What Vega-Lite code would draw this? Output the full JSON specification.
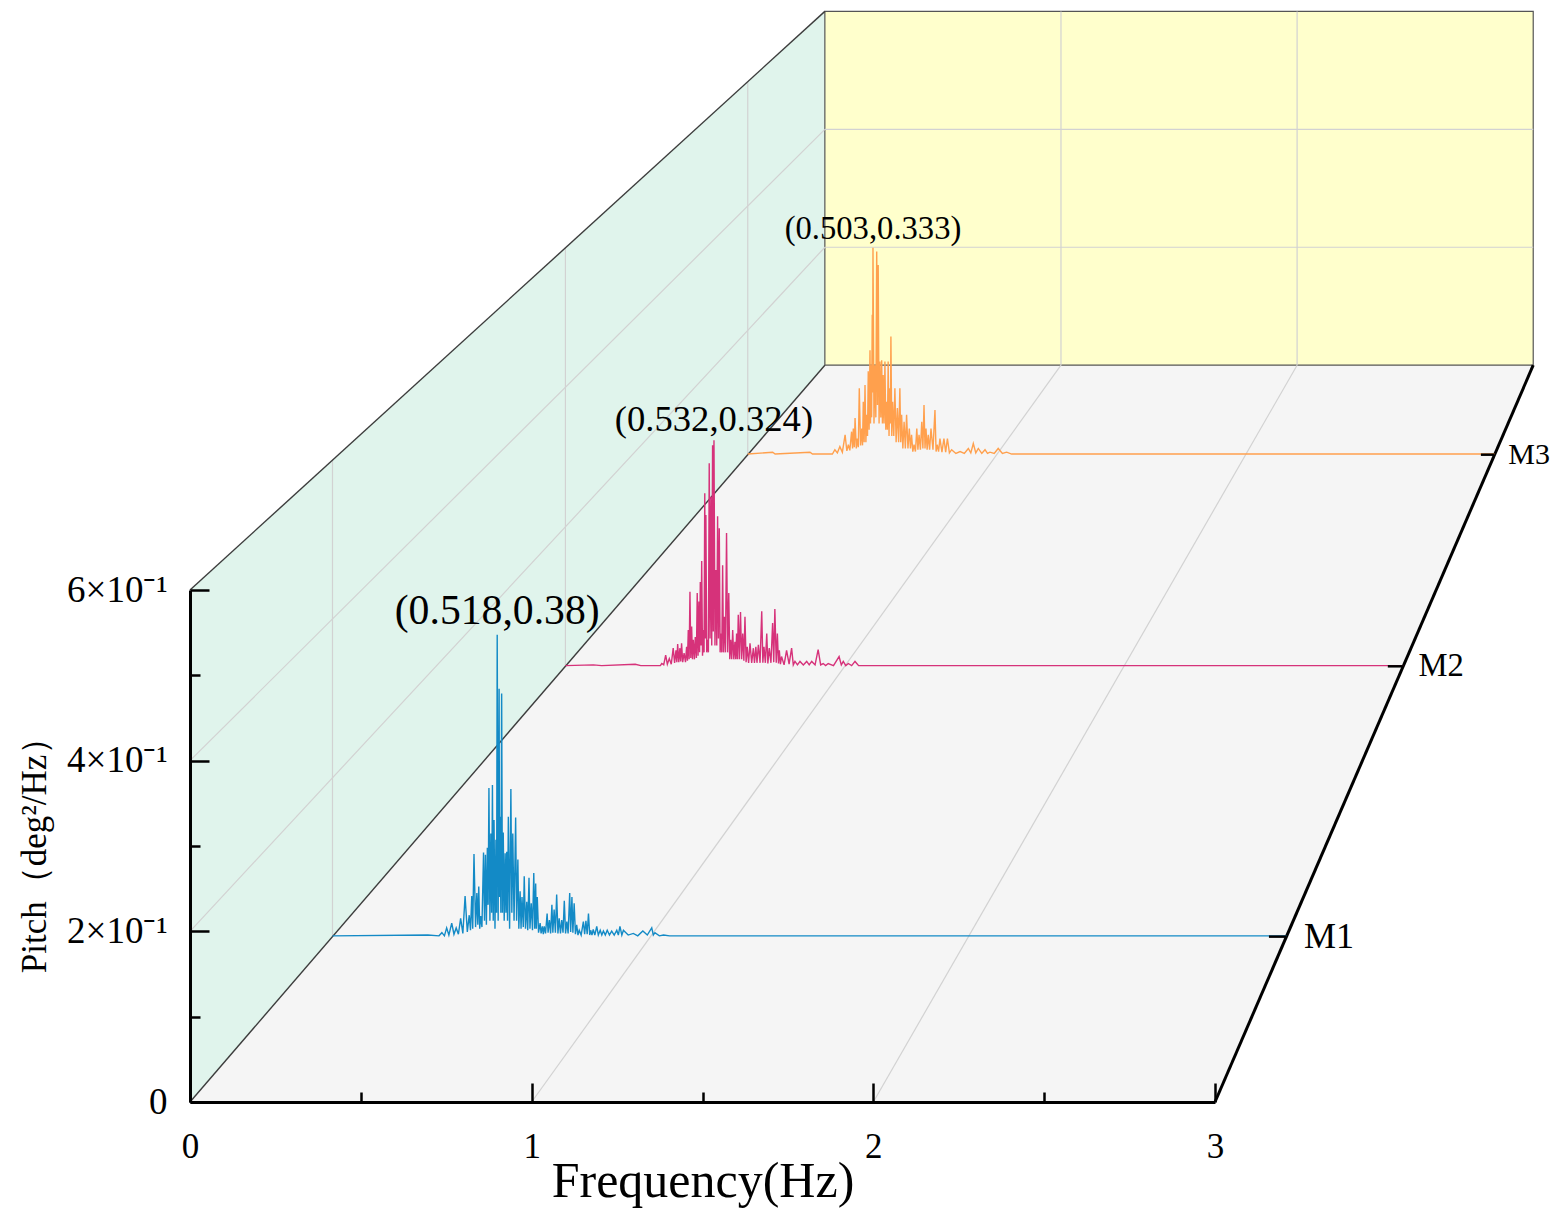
{
  "$schema": "https://vega.github.io/schema/vega-lite/v6.json",
  "width": 1025,
  "height": 512,
  "autosize": {"type": "none"},
  "padding": {"left": 190, "top": 590, "right": 342, "bottom": 114},
  "background": "white",
  "config": {"view": {"stroke": null}, "font": "Liberation Serif"},
  "datasets": {
    "box": [{"d": 0}, {"d": 3}],
    "frame": [
      {"k": "grid", "f1": 1, "p1": 0, "d1": 0, "f2": 1, "p2": 0, "d2": 3},
      {"k": "grid", "f1": 2, "p1": 0, "d1": 0, "f2": 2, "p2": 0, "d2": 3},
      {"k": "grid", "f1": 1, "p1": 0, "d1": 3, "f2": 1, "p2": 0.6, "d2": 3},
      {"k": "grid", "f1": 2, "p1": 0, "d1": 3, "f2": 2, "p2": 0.6, "d2": 3},
      {"k": "grid", "f1": 0, "p1": 0.2, "d1": 3, "f2": 3, "p2": 0.2, "d2": 3},
      {"k": "grid", "f1": 0, "p1": 0.4, "d1": 3, "f2": 3, "p2": 0.4, "d2": 3},
      {"k": "grid", "f1": 0, "p1": 0.2, "d1": 0, "f2": 0, "p2": 0.2, "d2": 3},
      {"k": "grid", "f1": 0, "p1": 0.4, "d1": 0, "f2": 0, "p2": 0.4, "d2": 3},
      {"k": "grid", "f1": 0, "p1": 0, "d1": 0.5, "f2": 0, "p2": 0.6, "d2": 0.5},
      {"k": "grid", "f1": 0, "p1": 0, "d1": 1.5, "f2": 0, "p2": 0.6, "d2": 1.5},
      {"k": "grid", "f1": 0, "p1": 0, "d1": 2.5, "f2": 0, "p2": 0.6, "d2": 2.5},
      {"k": "edge", "f1": 0, "p1": 0.6, "d1": 0, "f2": 0, "p2": 0.6, "d2": 3},
      {"k": "edge", "f1": 0, "p1": 0, "d1": 0, "f2": 0, "p2": 0, "d2": 3},
      {"k": "depth", "f1": 3, "p1": 0, "d1": 0, "f2": 3, "p2": 0, "d2": 3}
    ],
    "series": [{"m": "M1"}, {"m": "M2"}, {"m": "M3"}],
    "peaks": [
      {"m": "M1", "f": 0.518, "p": 0.38},
      {"m": "M2", "f": 0.532, "p": 0.324},
      {"m": "M3", "f": 0.503, "p": 0.333}
    ],
    "psd": [
      {"m":"M1","f":0,"p":0.001},{"m":"M1","f":0.3,"p":0.002},{"m":"M1","f":0.335,"p":0.001},{"m":"M1","f":0.344,"p":0.005},
      {"m":"M1","f":0.352,"p":0.001},{"m":"M1","f":0.359,"p":0.011},{"m":"M1","f":0.366,"p":0.002},{"m":"M1","f":0.375,"p":0.017},
      {"m":"M1","f":0.382,"p":0.003},{"m":"M1","f":0.389,"p":0.011},{"m":"M1","f":0.396,"p":0.003},{"m":"M1","f":0.403,"p":0.023},
      {"m":"M1","f":0.41,"p":0.004},{"m":"M1","f":0.417,"p":0.051},{"m":"M1","f":0.424,"p":0.006},{"m":"M1","f":0.43,"p":0.027},
      {"m":"M1","f":0.434,"p":0.008},{"m":"M1","f":0.438,"p":0.051},{"m":"M1","f":0.441,"p":0.01},{"m":"M1","f":0.445,"p":0.104},
      {"m":"M1","f":0.45,"p":0.012},{"m":"M1","f":0.454,"p":0.055},{"m":"M1","f":0.457,"p":0.015},{"m":"M1","f":0.46,"p":0.063},
      {"m":"M1","f":0.463,"p":0.01},{"m":"M1","f":0.466,"p":0.026},{"m":"M1","f":0.47,"p":0.012},{"m":"M1","f":0.475,"p":0.106},
      {"m":"M1","f":0.478,"p":0.02},{"m":"M1","f":0.481,"p":0.103},{"m":"M1","f":0.484,"p":0.015},{"m":"M1","f":0.487,"p":0.112},
      {"m":"M1","f":0.4895,"p":0.04},{"m":"M1","f":0.492,"p":0.187},{"m":"M1","f":0.495,"p":0.02},{"m":"M1","f":0.498,"p":0.13},
      {"m":"M1","f":0.5005,"p":0.03},{"m":"M1","f":0.503,"p":0.191},{"m":"M1","f":0.5055,"p":0.02},{"m":"M1","f":0.508,"p":0.147},
      {"m":"M1","f":0.511,"p":0.01},{"m":"M1","f":0.514,"p":0.122},{"m":"M1","f":0.516,"p":0.03},{"m":"M1","f":0.518,"p":0.38},
      {"m":"M1","f":0.521,"p":0.02},{"m":"M1","f":0.524,"p":0.312},{"m":"M1","f":0.5255,"p":0.05},{"m":"M1","f":0.527,"p":0.151},
      {"m":"M1","f":0.5295,"p":0.03},{"m":"M1","f":0.532,"p":0.306},{"m":"M1","f":0.5345,"p":0.03},{"m":"M1","f":0.537,"p":0.131},
      {"m":"M1","f":0.54,"p":0.02},{"m":"M1","f":0.543,"p":0.105},{"m":"M1","f":0.5455,"p":0.03},{"m":"M1","f":0.548,"p":0.107},
      {"m":"M1","f":0.5505,"p":0.02},{"m":"M1","f":0.553,"p":0.151},{"m":"M1","f":0.557,"p":0.01},{"m":"M1","f":0.561,"p":0.186},
      {"m":"M1","f":0.564,"p":0.03},{"m":"M1","f":0.567,"p":0.13},{"m":"M1","f":0.571,"p":0.02},{"m":"M1","f":0.576,"p":0.15},
      {"m":"M1","f":0.579,"p":0.02},{"m":"M1","f":0.583,"p":0.097},{"m":"M1","f":0.586,"p":0.01},{"m":"M1","f":0.59,"p":0.057},
      {"m":"M1","f":0.593,"p":0.01},{"m":"M1","f":0.596,"p":0.05},{"m":"M1","f":0.6,"p":0.012},{"m":"M1","f":0.603,"p":0.076},
      {"m":"M1","f":0.607,"p":0.01},{"m":"M1","f":0.611,"p":0.044},{"m":"M1","f":0.614,"p":0.008},{"m":"M1","f":0.618,"p":0.074},
      {"m":"M1","f":0.621,"p":0.01},{"m":"M1","f":0.625,"p":0.042},{"m":"M1","f":0.629,"p":0.008},{"m":"M1","f":0.633,"p":0.08},
      {"m":"M1","f":0.636,"p":0.01},{"m":"M1","f":0.639,"p":0.067},{"m":"M1","f":0.641,"p":0.01},{"m":"M1","f":0.644,"p":0.05},
      {"m":"M1","f":0.648,"p":0.005},{"m":"M1","f":0.653,"p":0.017},{"m":"M1","f":0.656,"p":0.004},{"m":"M1","f":0.66,"p":0.013},
      {"m":"M1","f":0.663,"p":0.003},{"m":"M1","f":0.666,"p":0.013},{"m":"M1","f":0.67,"p":0.004},{"m":"M1","f":0.675,"p":0.029},
      {"m":"M1","f":0.678,"p":0.005},{"m":"M1","f":0.682,"p":0.021},{"m":"M1","f":0.686,"p":0.004},{"m":"M1","f":0.69,"p":0.04},
      {"m":"M1","f":0.693,"p":0.005},{"m":"M1","f":0.697,"p":0.034},{"m":"M1","f":0.701,"p":0.005},{"m":"M1","f":0.705,"p":0.053},
      {"m":"M1","f":0.709,"p":0.004},{"m":"M1","f":0.713,"p":0.023},{"m":"M1","f":0.717,"p":0.004},{"m":"M1","f":0.721,"p":0.021},
      {"m":"M1","f":0.725,"p":0.005},{"m":"M1","f":0.729,"p":0.045},{"m":"M1","f":0.733,"p":0.004},{"m":"M1","f":0.737,"p":0.019},
      {"m":"M1","f":0.741,"p":0.004},{"m":"M1","f":0.746,"p":0.055},{"m":"M1","f":0.749,"p":0.006},{"m":"M1","f":0.753,"p":0.05},
      {"m":"M1","f":0.756,"p":0.005},{"m":"M1","f":0.76,"p":0.042},{"m":"M1","f":0.764,"p":0.003},{"m":"M1","f":0.768,"p":0.015},
      {"m":"M1","f":0.772,"p":0.002},{"m":"M1","f":0.776,"p":0.008},{"m":"M1","f":0.782,"p":0.002},{"m":"M1","f":0.789,"p":0.019},
      {"m":"M1","f":0.793,"p":0.003},{"m":"M1","f":0.797,"p":0.02},{"m":"M1","f":0.801,"p":0.003},{"m":"M1","f":0.805,"p":0.029},
      {"m":"M1","f":0.809,"p":0.002},{"m":"M1","f":0.812,"p":0.008},{"m":"M1","f":0.816,"p":0.002},{"m":"M1","f":0.82,"p":0.009},
      {"m":"M1","f":0.825,"p":0.002},{"m":"M1","f":0.831,"p":0.013},{"m":"M1","f":0.836,"p":0.002},{"m":"M1","f":0.842,"p":0.008},
      {"m":"M1","f":0.847,"p":0.002},{"m":"M1","f":0.852,"p":0.007},{"m":"M1","f":0.858,"p":0.002},{"m":"M1","f":0.864,"p":0.008},
      {"m":"M1","f":0.871,"p":0.002},{"m":"M1","f":0.878,"p":0.007},{"m":"M1","f":0.886,"p":0.002},{"m":"M1","f":0.894,"p":0.008},
      {"m":"M1","f":0.899,"p":0.002},{"m":"M1","f":0.904,"p":0.013},{"m":"M1","f":0.91,"p":0.002},{"m":"M1","f":0.915,"p":0.008},
      {"m":"M1","f":0.93,"p":0.002},{"m":"M1","f":0.946,"p":0.004},{"m":"M1","f":0.96,"p":0.001},{"m":"M1","f":0.976,"p":0.007},
      {"m":"M1","f":0.99,"p":0.002},{"m":"M1","f":1.004,"p":0.011},{"m":"M1","f":1.009,"p":0.002},{"m":"M1","f":1.014,"p":0.005},
      {"m":"M1","f":1.028,"p":0.001},{"m":"M1","f":1.041,"p":0.002},{"m":"M1","f":1.06,"p":0.001},{"m":"M1","f":3,"p":0.001},

      {"m":"M2","f":0,"p":0.001},{"m":"M2","f":0.1,"p":0.002},{"m":"M2","f":0.13,"p":0.001},{"m":"M2","f":0.25,"p":0.003},
      {"m":"M2","f":0.27,"p":0.001},{"m":"M2","f":0.34,"p":0.001},{"m":"M2","f":0.345,"p":0.004},{"m":"M2","f":0.352,"p":0.002},
      {"m":"M2","f":0.359,"p":0.016},{"m":"M2","f":0.365,"p":0.003},{"m":"M2","f":0.372,"p":0.011},{"m":"M2","f":0.379,"p":0.003},
      {"m":"M2","f":0.386,"p":0.026},{"m":"M2","f":0.391,"p":0.005},{"m":"M2","f":0.396,"p":0.023},{"m":"M2","f":0.399,"p":0.006},
      {"m":"M2","f":0.402,"p":0.032},{"m":"M2","f":0.406,"p":0.006},{"m":"M2","f":0.41,"p":0.026},{"m":"M2","f":0.413,"p":0.007},
      {"m":"M2","f":0.416,"p":0.033},{"m":"M2","f":0.42,"p":0.006},{"m":"M2","f":0.425,"p":0.019},{"m":"M2","f":0.43,"p":0.006},
      {"m":"M2","f":0.434,"p":0.028},{"m":"M2","f":0.437,"p":0.008},{"m":"M2","f":0.44,"p":0.052},{"m":"M2","f":0.443,"p":0.01},
      {"m":"M2","f":0.446,"p":0.107},{"m":"M2","f":0.449,"p":0.012},{"m":"M2","f":0.452,"p":0.057},{"m":"M2","f":0.455,"p":0.01},
      {"m":"M2","f":0.458,"p":0.038},{"m":"M2","f":0.462,"p":0.01},{"m":"M2","f":0.465,"p":0.042},{"m":"M2","f":0.469,"p":0.012},
      {"m":"M2","f":0.472,"p":0.105},{"m":"M2","f":0.475,"p":0.015},{"m":"M2","f":0.478,"p":0.093},{"m":"M2","f":0.4805,"p":0.02},
      {"m":"M2","f":0.483,"p":0.121},{"m":"M2","f":0.4855,"p":0.03},{"m":"M2","f":0.488,"p":0.151},{"m":"M2","f":0.491,"p":0.015},
      {"m":"M2","f":0.494,"p":0.052},{"m":"M2","f":0.4965,"p":0.02},{"m":"M2","f":0.499,"p":0.248},{"m":"M2","f":0.501,"p":0.04},
      {"m":"M2","f":0.503,"p":0.217},{"m":"M2","f":0.506,"p":0.02},{"m":"M2","f":0.509,"p":0.038},{"m":"M2","f":0.512,"p":0.02},
      {"m":"M2","f":0.515,"p":0.291},{"m":"M2","f":0.518,"p":0.04},{"m":"M2","f":0.521,"p":0.243},{"m":"M2","f":0.524,"p":0.03},
      {"m":"M2","f":0.527,"p":0.317},{"m":"M2","f":0.5295,"p":0.05},{"m":"M2","f":0.532,"p":0.324},{"m":"M2","f":0.5355,"p":0.03},
      {"m":"M2","f":0.539,"p":0.138},{"m":"M2","f":0.542,"p":0.03},{"m":"M2","f":0.545,"p":0.215},{"m":"M2","f":0.548,"p":0.04},
      {"m":"M2","f":0.551,"p":0.198},{"m":"M2","f":0.554,"p":0.02},{"m":"M2","f":0.557,"p":0.047},{"m":"M2","f":0.56,"p":0.02},
      {"m":"M2","f":0.563,"p":0.145},{"m":"M2","f":0.566,"p":0.02},{"m":"M2","f":0.569,"p":0.071},{"m":"M2","f":0.573,"p":0.02},
      {"m":"M2","f":0.577,"p":0.191},{"m":"M2","f":0.581,"p":0.02},{"m":"M2","f":0.585,"p":0.105},{"m":"M2","f":0.5885,"p":0.01},
      {"m":"M2","f":0.592,"p":0.038},{"m":"M2","f":0.5955,"p":0.01},{"m":"M2","f":0.599,"p":0.052},{"m":"M2","f":0.603,"p":0.01},
      {"m":"M2","f":0.607,"p":0.035},{"m":"M2","f":0.61,"p":0.01},{"m":"M2","f":0.613,"p":0.047},{"m":"M2","f":0.616,"p":0.01},
      {"m":"M2","f":0.619,"p":0.074},{"m":"M2","f":0.623,"p":0.01},{"m":"M2","f":0.627,"p":0.078},{"m":"M2","f":0.631,"p":0.01},
      {"m":"M2","f":0.635,"p":0.047},{"m":"M2","f":0.639,"p":0.008},{"m":"M2","f":0.643,"p":0.071},{"m":"M2","f":0.647,"p":0.006},
      {"m":"M2","f":0.651,"p":0.028},{"m":"M2","f":0.656,"p":0.005},{"m":"M2","f":0.661,"p":0.033},{"m":"M2","f":0.667,"p":0.005},
      {"m":"M2","f":0.673,"p":0.026},{"m":"M2","f":0.677,"p":0.005},{"m":"M2","f":0.682,"p":0.028},{"m":"M2","f":0.686,"p":0.005},
      {"m":"M2","f":0.691,"p":0.031},{"m":"M2","f":0.697,"p":0.005},{"m":"M2","f":0.703,"p":0.079},{"m":"M2","f":0.707,"p":0.005},
      {"m":"M2","f":0.711,"p":0.028},{"m":"M2","f":0.716,"p":0.005},{"m":"M2","f":0.721,"p":0.047},{"m":"M2","f":0.725,"p":0.004},
      {"m":"M2","f":0.73,"p":0.026},{"m":"M2","f":0.736,"p":0.005},{"m":"M2","f":0.742,"p":0.062},{"m":"M2","f":0.746,"p":0.006},
      {"m":"M2","f":0.75,"p":0.082},{"m":"M2","f":0.755,"p":0.005},{"m":"M2","f":0.759,"p":0.047},{"m":"M2","f":0.763,"p":0.004},
      {"m":"M2","f":0.766,"p":0.023},{"m":"M2","f":0.77,"p":0.003},{"m":"M2","f":0.774,"p":0.014},{"m":"M2","f":0.783,"p":0.002},
      {"m":"M2","f":0.792,"p":0.023},{"m":"M2","f":0.801,"p":0.003},{"m":"M2","f":0.81,"p":0.026},{"m":"M2","f":0.816,"p":0.002},
      {"m":"M2","f":0.822,"p":0.007},{"m":"M2","f":0.831,"p":0.002},{"m":"M2","f":0.84,"p":0.007},{"m":"M2","f":0.852,"p":0.002},
      {"m":"M2","f":0.864,"p":0.007},{"m":"M2","f":0.873,"p":0.002},{"m":"M2","f":0.882,"p":0.007},{"m":"M2","f":0.894,"p":0.002},
      {"m":"M2","f":0.905,"p":0.024},{"m":"M2","f":0.914,"p":0.002},{"m":"M2","f":0.923,"p":0.004},{"m":"M2","f":0.932,"p":0.001},
      {"m":"M2","f":0.941,"p":0.004},{"m":"M2","f":0.96,"p":0.001},{"m":"M2","f":0.98,"p":0.014},{"m":"M2","f":0.988,"p":0.002},
      {"m":"M2","f":0.995,"p":0.007},{"m":"M2","f":1.004,"p":0.001},{"m":"M2","f":1.013,"p":0.004},{"m":"M2","f":1.025,"p":0.001},
      {"m":"M2","f":1.037,"p":0.007},{"m":"M2","f":1.05,"p":0.001},{"m":"M2","f":3,"p":0.001},

      {"m":"M3","f":0,"p":0.001},{"m":"M3","f":0.1,"p":0.004},{"m":"M3","f":0.11,"p":0.001},{"m":"M3","f":0.25,"p":0.004},
      {"m":"M3","f":0.26,"p":0.001},{"m":"M3","f":0.34,"p":0.001},{"m":"M3","f":0.35,"p":0.008},{"m":"M3","f":0.36,"p":0.003},
      {"m":"M3","f":0.37,"p":0.013},{"m":"M3","f":0.38,"p":0.004},{"m":"M3","f":0.391,"p":0.032},{"m":"M3","f":0.398,"p":0.006},
      {"m":"M3","f":0.404,"p":0.016},{"m":"M3","f":0.41,"p":0.007},{"m":"M3","f":0.417,"p":0.037},{"m":"M3","f":0.421,"p":0.01},
      {"m":"M3","f":0.424,"p":0.042},{"m":"M3","f":0.428,"p":0.012},{"m":"M3","f":0.431,"p":0.059},{"m":"M3","f":0.436,"p":0.01},
      {"m":"M3","f":0.44,"p":0.026},{"m":"M3","f":0.444,"p":0.012},{"m":"M3","f":0.448,"p":0.107},{"m":"M3","f":0.453,"p":0.015},
      {"m":"M3","f":0.458,"p":0.042},{"m":"M3","f":0.461,"p":0.015},{"m":"M3","f":0.464,"p":0.085},{"m":"M3","f":0.4675,"p":0.02},
      {"m":"M3","f":0.471,"p":0.112},{"m":"M3","f":0.4745,"p":0.02},{"m":"M3","f":0.478,"p":0.064},{"m":"M3","f":0.481,"p":0.03},
      {"m":"M3","f":0.484,"p":0.134},{"m":"M3","f":0.4875,"p":0.04},{"m":"M3","f":0.491,"p":0.168},{"m":"M3","f":0.493,"p":0.05},
      {"m":"M3","f":0.495,"p":0.144},{"m":"M3","f":0.4975,"p":0.06},{"m":"M3","f":0.5,"p":0.225},{"m":"M3","f":0.5015,"p":0.1},
      {"m":"M3","f":0.503,"p":0.333},{"m":"M3","f":0.507,"p":0.05},{"m":"M3","f":0.511,"p":0.144},{"m":"M3","f":0.5145,"p":0.06},
      {"m":"M3","f":0.518,"p":0.327},{"m":"M3","f":0.521,"p":0.08},{"m":"M3","f":0.524,"p":0.305},{"m":"M3","f":0.5275,"p":0.05},
      {"m":"M3","f":0.531,"p":0.15},{"m":"M3","f":0.5345,"p":0.06},{"m":"M3","f":0.538,"p":0.152},{"m":"M3","f":0.541,"p":0.05},
      {"m":"M3","f":0.544,"p":0.128},{"m":"M3","f":0.5475,"p":0.05},{"m":"M3","f":0.551,"p":0.15},{"m":"M3","f":0.5545,"p":0.04},
      {"m":"M3","f":0.558,"p":0.085},{"m":"M3","f":0.561,"p":0.04},{"m":"M3","f":0.564,"p":0.15},{"m":"M3","f":0.5675,"p":0.03},
      {"m":"M3","f":0.571,"p":0.107},{"m":"M3","f":0.573,"p":0.05},{"m":"M3","f":0.575,"p":0.19},{"m":"M3","f":0.5785,"p":0.03},
      {"m":"M3","f":0.582,"p":0.085},{"m":"M3","f":0.5865,"p":0.03},{"m":"M3","f":0.591,"p":0.107},{"m":"M3","f":0.596,"p":0.02},
      {"m":"M3","f":0.601,"p":0.075},{"m":"M3","f":0.606,"p":0.02},{"m":"M3","f":0.611,"p":0.107},{"m":"M3","f":0.6145,"p":0.02},
      {"m":"M3","f":0.618,"p":0.064},{"m":"M3","f":0.623,"p":0.01},{"m":"M3","f":0.628,"p":0.053},{"m":"M3","f":0.633,"p":0.01},
      {"m":"M3","f":0.638,"p":0.064},{"m":"M3","f":0.6435,"p":0.01},{"m":"M3","f":0.649,"p":0.042},{"m":"M3","f":0.6535,"p":0.01},
      {"m":"M3","f":0.658,"p":0.032},{"m":"M3","f":0.663,"p":0.005},{"m":"M3","f":0.668,"p":0.016},{"m":"M3","f":0.6735,"p":0.005},
      {"m":"M3","f":0.679,"p":0.042},{"m":"M3","f":0.6835,"p":0.008},{"m":"M3","f":0.688,"p":0.032},{"m":"M3","f":0.6935,"p":0.008},
      {"m":"M3","f":0.699,"p":0.053},{"m":"M3","f":0.7035,"p":0.01},{"m":"M3","f":0.708,"p":0.08},{"m":"M3","f":0.712,"p":0.01},
      {"m":"M3","f":0.716,"p":0.042},{"m":"M3","f":0.7205,"p":0.008},{"m":"M3","f":0.725,"p":0.032},{"m":"M3","f":0.7305,"p":0.008},
      {"m":"M3","f":0.736,"p":0.042},{"m":"M3","f":0.744,"p":0.008},{"m":"M3","f":0.752,"p":0.072},{"m":"M3","f":0.7565,"p":0.005},
      {"m":"M3","f":0.761,"p":0.016},{"m":"M3","f":0.7665,"p":0.005},{"m":"M3","f":0.772,"p":0.026},{"m":"M3","f":0.78,"p":0.004},
      {"m":"M3","f":0.788,"p":0.026},{"m":"M3","f":0.795,"p":0.004},{"m":"M3","f":0.802,"p":0.026},{"m":"M3","f":0.81,"p":0.003},
      {"m":"M3","f":0.819,"p":0.008},{"m":"M3","f":0.836,"p":0.002},{"m":"M3","f":0.853,"p":0.005},{"m":"M3","f":0.87,"p":0.002},
      {"m":"M3","f":0.886,"p":0.01},{"m":"M3","f":0.896,"p":0.003},{"m":"M3","f":0.906,"p":0.018},{"m":"M3","f":0.916,"p":0.003},
      {"m":"M3","f":0.926,"p":0.01},{"m":"M3","f":0.94,"p":0.002},{"m":"M3","f":0.953,"p":0.008},{"m":"M3","f":0.963,"p":0.002},
      {"m":"M3","f":0.973,"p":0.004},{"m":"M3","f":0.99,"p":0.002},{"m":"M3","f":1.006,"p":0.01},{"m":"M3","f":1.023,"p":0.002},
      {"m":"M3","f":1.04,"p":0.004},{"m":"M3","f":1.06,"p":0.001},{"m":"M3","f":3,"p":0.001}
    ]
  },
  "encoding": {
    "x": {
      "field": "u",
      "type": "quantitative",
      "scale": {"domain": [0, 3], "nice": false, "zero": false},
      "axis": {
        "values": [0, 0.5, 1, 1.5, 2, 2.5, 3],
        "labelExpr": "datum.value % 1 === 0 ? format(datum.value, 'd') : ''",
        "grid": false,
        "zindex": 1,
        "domainColor": "black",
        "domainWidth": 3,
        "tickColor": "black",
        "tickWidth": 2.5,
        "tickSize": {"condition": {"test": "datum.value % 1 === 0", "value": -19}, "value": -10},
        "labelFont": "Liberation Serif",
        "labelFontSize": 35,
        "labelColor": "black",
        "labelPadding": 46,
        "labelFlush": false,
        "labelOverlap": false,
        "title": "Frequency(Hz)",
        "titleFont": "Liberation Serif",
        "titleFontSize": 50,
        "titleFontWeight": "normal",
        "titleColor": "black",
        "titlePadding": -17
      }
    },
    "y": {
      "field": "v",
      "type": "quantitative",
      "scale": {"domain": [0, 0.6], "nice": false, "zero": false},
      "axis": {
        "values": [0, 0.1, 0.2, 0.3, 0.4, 0.5, 0.6],
        "labelExpr": "datum.value === 0 ? '0' : (round(datum.value * 10) % 2 === 0 ? round(datum.value * 10) + '×10⁻¹' : '')",
        "grid": false,
        "zindex": 1,
        "domainColor": "black",
        "domainWidth": 3,
        "tickColor": "black",
        "tickWidth": 2.5,
        "tickSize": {"condition": {"test": "round(datum.value * 10) % 2 === 0", "value": -19}, "value": -10},
        "labelFont": "Liberation Serif",
        "labelFontSize": 37,
        "labelColor": "black",
        "labelPadding": 42,
        "labelFlush": false,
        "labelOverlap": false,
        "title": "Pitch（deg²/Hz）",
        "titleFont": "Liberation Serif",
        "titleFontSize": 35,
        "titleFontWeight": "normal",
        "titleColor": "black",
        "titlePadding": 14
      }
    }
  },
  "layer": [
    {
      "data": {"name": "box"},
      "transform": [
        {"calculate": "1/(1+0.149*datum.d)", "as": "s"},
        {"calculate": "6.015+(0-6.015)*datum.s", "as": "u"},
        {"calculate": "6.015+(3-6.015)*datum.s", "as": "u2"},
        {"calculate": "2.795+(0-2.795)*datum.s", "as": "v"},
        {"calculate": "2.795+(0.6-2.795)*datum.s", "as": "vt"}
      ],
      "layer": [
        {
          "mark": {"type": "area", "orient": "horizontal", "fill": "#F5F5F5"},
          "encoding": {"x2": {"field": "u2"}}
        },
        {
          "mark": {"type": "area", "orient": "vertical", "fill": "#E0F4EC"},
          "encoding": {"y": {"field": "vt", "type": "quantitative"}, "y2": {"field": "v"}}
        },
        {
          "transform": [{"filter": "datum.d === 3"}],
          "mark": {"type": "rect", "fill": "#FFFFCC", "stroke": "#555555", "strokeWidth": 1.2},
          "encoding": {"x2": {"field": "u2"}, "y": {"field": "vt", "type": "quantitative"}, "y2": {"field": "v"}}
        }
      ]
    },
    {
      "data": {"name": "frame"},
      "transform": [
        {"calculate": "1/(1+0.149*datum.d1)", "as": "s1"},
        {"calculate": "1/(1+0.149*datum.d2)", "as": "s2"},
        {"calculate": "6.015+(datum.f1-6.015)*datum.s1", "as": "u"},
        {"calculate": "2.795+(datum.p1-2.795)*datum.s1", "as": "v"},
        {"calculate": "6.015+(datum.f2-6.015)*datum.s2", "as": "u2"},
        {"calculate": "2.795+(datum.p2-2.795)*datum.s2", "as": "v2"}
      ],
      "encoding": {"x2": {"field": "u2"}, "y2": {"field": "v2"}},
      "layer": [
        {"transform": [{"filter": "datum.k === 'grid'"}], "mark": {"type": "rule", "color": "#D2D2D2", "strokeWidth": 1.2}},
        {"transform": [{"filter": "datum.k === 'edge'"}], "mark": {"type": "rule", "color": "#3C3C3C", "strokeWidth": 1.4}},
        {"transform": [{"filter": "datum.k === 'depth'"}], "mark": {"type": "rule", "color": "black", "strokeWidth": 3}}
      ]
    },
    {
      "data": {"name": "psd"},
      "transform": [
        {"calculate": "indexof(['M1','M2','M3'], datum.m)+0.5", "as": "d"},
        {"calculate": "1/(1+0.149*datum.d)", "as": "s"},
        {"calculate": "6.015+(datum.f-6.015)*datum.s", "as": "u"},
        {"calculate": "2.795+(datum.p-2.795)*datum.s", "as": "v"}
      ],
      "mark": {"type": "line", "strokeWidth": 1.4},
      "encoding": {
        "color": {"field": "m", "type": "nominal", "scale": {"domain": ["M1", "M2", "M3"], "range": ["#138AC6", "#D6327A", "#FFA04D"]}, "legend": null},
        "order": {"field": "f", "type": "quantitative"}
      }
    },
    {
      "data": {"name": "series"},
      "transform": [
        {"calculate": "indexof(['M1','M2','M3'], datum.m)+0.5", "as": "d"},
        {"calculate": "1/(1+0.149*datum.d)", "as": "s"},
        {"calculate": "6.015+(2.945-6.015)*datum.s", "as": "u"},
        {"calculate": "6.015+(3-6.015)*datum.s", "as": "u2"},
        {"calculate": "6.015+(3.055-6.015)*datum.s", "as": "ul"},
        {"calculate": "2.795+(0-2.795)*datum.s", "as": "v"},
        {"calculate": "8.4+29.7*datum.s", "as": "fs"}
      ],
      "layer": [
        {"mark": {"type": "rule", "color": "black", "strokeWidth": 2.5}, "encoding": {"x2": {"field": "u2"}}},
        {
          "mark": {"type": "text", "align": "left", "baseline": "middle", "font": "Liberation Serif", "color": "black"},
          "encoding": {
            "x": {"field": "ul", "type": "quantitative"},
            "text": {"field": "m"},
            "size": {"field": "fs", "type": "quantitative", "scale": null}
          }
        }
      ]
    },
    {
      "data": {"name": "peaks"},
      "transform": [
        {"calculate": "indexof(['M1','M2','M3'], datum.m)+0.5", "as": "d"},
        {"calculate": "1/(1+0.149*datum.d)", "as": "s"},
        {"calculate": "6.015+(datum.f-6.015)*datum.s", "as": "u"},
        {"calculate": "2.795+(datum.p+0.014-2.795)*datum.s", "as": "v"},
        {"calculate": "'(' + datum.f + ',' + datum.p + ')'", "as": "lab"},
        {"calculate": "44.8*datum.s", "as": "fs"}
      ],
      "mark": {"type": "text", "align": "center", "baseline": "alphabetic", "font": "Liberation Serif", "color": "black"},
      "encoding": {
        "text": {"field": "lab"},
        "size": {"field": "fs", "type": "quantitative", "scale": null}
      }
    }
  ]
}
